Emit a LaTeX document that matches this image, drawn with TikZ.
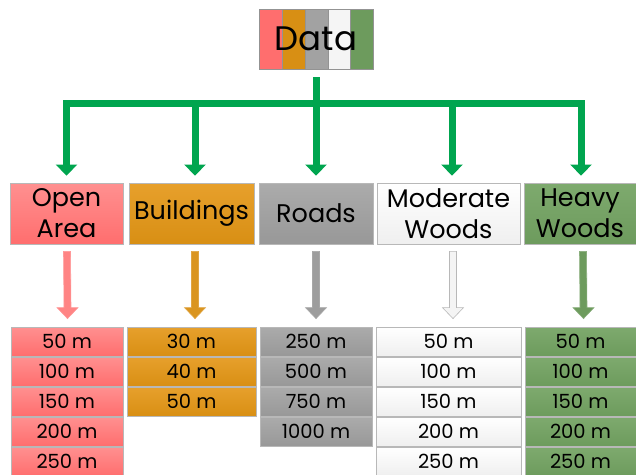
\documentclass[tikz,border=0pt]{standalone}
\usepackage{fontspec}
\setmainfont{Poppins}
\usetikzlibrary{calc,arrows.meta}
\definecolor{gr}{HTML}{00A54F}
\definecolor{pinkT}{HTML}{FF9090}
\definecolor{pinkB}{HTML}{FF6E6E}
\definecolor{orT}{HTML}{E7A02C}
\definecolor{orB}{HTML}{D88F14}
\definecolor{gyT}{HTML}{ABABAB}
\definecolor{gyB}{HTML}{989898}
\definecolor{whT}{HTML}{FFFFFF}
\definecolor{whB}{HTML}{EFEFEF}
\definecolor{gnT}{HTML}{7EAA6E}
\definecolor{gnB}{HTML}{6D9B5D}
\definecolor{edge}{HTML}{B8B8B8}
\newcommand\lowarrow[5]{%
  \coordinate (s) at ([xshift=#3,yshift=-7pt]#1.south);
  \coordinate (t) at ([xshift=#3,yshift=8pt]#2.north);
  \draw[#4,draw=#5,line width=0.6pt] ($(s)+(-3.5,0)$) -- ($(t)+(-3.5,-11)$) -- ($(t)+(-10.5,-11)$) -- (t) -- ($(t)+(10.5,-11)$) -- ($(t)+(3.5,-11)$) -- ($(s)+(3.5,0)$) -- cycle;}
\begin{document}
\begin{tikzpicture}[x=1pt,y=-1pt,
  cat/.style={draw=edge,line width=0.8pt,inner sep=0pt,align=center,minimum height=61pt,font=\fontsize{25.5}{31}\selectfont},
  cell/.style={draw=edge,line width=0.8pt,inner sep=0pt,minimum height=29pt,font=\fontsize{19.5}{21}\selectfont},
  pinkfill/.style={top color=pinkT,bottom color=pinkB},
  orfill/.style={top color=orT,bottom color=orB},
  gyfill/.style={top color=gyT,bottom color=gyB},
  whfill/.style={top color=whT,bottom color=whB},
  gnfill/.style={top color=gnT,bottom color=gnB},
  garrow/.style={draw=gr,line width=7pt,-{Triangle[width=21pt,length=11pt]}},
  gline/.style={draw=gr,line width=7pt,line cap=rect}]
\useasboundingbox (0,0) rectangle (636,474);
\clip (0,0) rectangle (636,474);
% Data box stripes
\fill[pinkB] (259,9) rectangle (282,69);
\fill[orB] (282,9) rectangle (305,69);
\fill[gyB!90!white] (305,9) rectangle (328,69);
\fill[whB!60!white] (328,9) rectangle (350,69);
\fill[gnB] (350,9) rectangle (373,69);
\foreach \xx in {282,305,328,350} \draw[edge!80!black,line width=0.5pt] (\xx,9) -- (\xx,69);
\node[draw=edge!80!black,line width=0.8pt,minimum width=114pt,minimum height=60pt,inner sep=0pt,font=\fontsize{34}{40}\selectfont] (data) at (316,39) {Data};
% categories
\node[cat,pinkfill,minimum width=113pt] (open) at (66.5,213.5) {Open\\Area};
\node[cat,orfill,minimum width=125pt] (bld) at (191.5,213.5) {Buildings};
\node[cat,gyfill,minimum width=114pt] (roads) at (316,213.5) {Roads};
\node[cat,whfill,minimum width=143pt] (mod) at (448.5,213.5) {Moderate\\Woods};
\node[cat,gnfill,minimum width=112pt] (heavy) at (580,213.5) {Heavy\\Woods};
% top green connectors
\coordinate (bar) at (316,103.5);
\draw[gline] (open.north |- bar) -- ([xshift=1pt]heavy.north |- bar);
\draw[garrow] ([yshift=-8pt]data.south) -- ([yshift=7pt]roads.north);
\draw[garrow] (open.north |- bar) -- ([yshift=7pt]open.north);
\draw[garrow] ([xshift=3.5pt]bld.north |- bar) -- ([xshift=3.5pt,yshift=7pt]bld.north);
\draw[garrow] ([xshift=3.5pt]mod.north |- bar) -- ([xshift=3.5pt,yshift=7pt]mod.north);
\draw[garrow] ([xshift=1pt]heavy.north |- bar) -- ([xshift=1pt,yshift=7pt]heavy.north);
% value cells
\foreach \t [count=\i] in {50,100,150,200,250}
  \node[cell,pinkfill,minimum width=112pt] (oa\i) at (67,{341.5+30*(\i-1)}) {\t\ m};
\foreach \t [count=\i] in {30,40,50}
  \node[cell,orfill,minimum width=129pt] (bd\i) at (191.5,{341.5+30*(\i-1)}) {\t\ m};
\foreach \t [count=\i] in {250,500,750,1000}
  \node[cell,gyfill,minimum width=112pt] (rd\i) at (316,{341.5+30*(\i-1)}) {\t\ m};
\foreach \t [count=\i] in {50,100,150,200,250}
  \node[cell,whfill,minimum width=145pt] (mw\i) at (448.5,{341.5+30*(\i-1)}) {\t\ m};
\foreach \t [count=\i] in {50,100,150,200,250}
  \node[cell,gnfill,minimum width=111pt] (hw\i) at (580.5,{341.5+30*(\i-1)}) {\t\ m};
% lower block arrows
\lowarrow{open}{oa1}{0.5pt}{fill=pinkB!85!white}{pinkB!70!white}
\lowarrow{bld}{bd1}{3.5pt}{fill=orB!95!white}{orB!80!white}
\lowarrow{roads}{rd1}{0pt}{fill=gyB!95!white}{gyB!85!white}
\lowarrow{mod}{mw1}{4.5pt}{fill=whB!70!white}{edge}
\lowarrow{heavy}{hw1}{3pt}{fill=gnB}{gnB!80!white}
\end{tikzpicture}
\end{document}
